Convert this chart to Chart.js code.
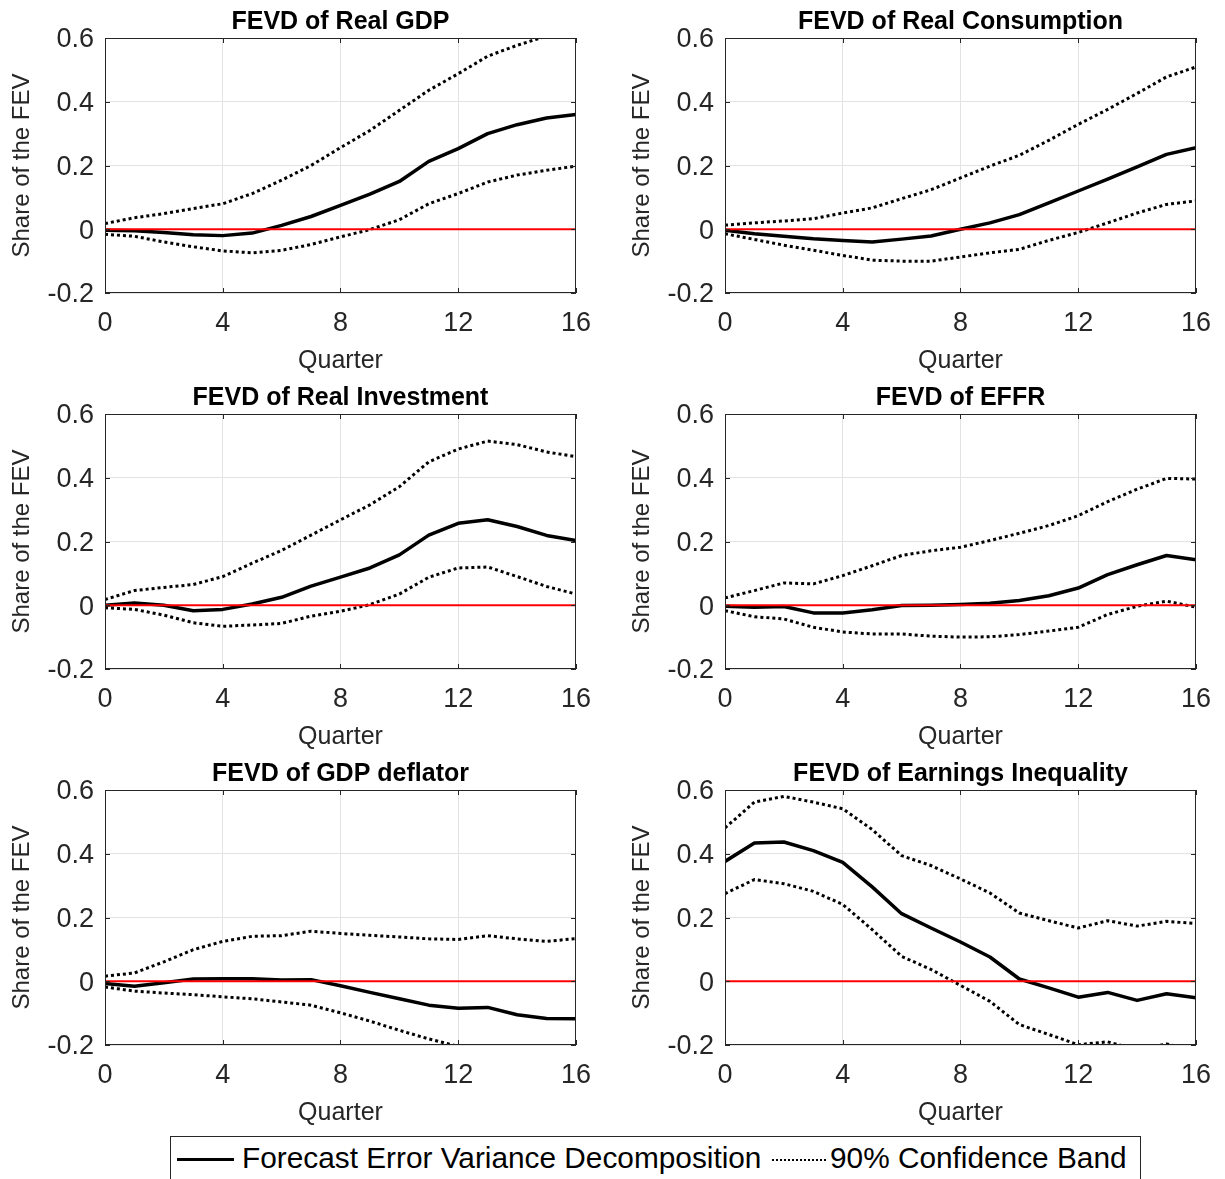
<!DOCTYPE html>
<html>
<head>
<meta charset="utf-8">
<title>FEVD panels</title>
<script src="https://cdn.jsdelivr.net/npm/chart.js@4.4.1/dist/chart.umd.min.js"></script>
<style>
  html, body { margin: 0; padding: 0; background: #fff; overflow: hidden; }
  #page { position: relative; width: 1225px; height: 1179px; font-family: 'Liberation Sans', Arial, sans-serif; }
  .panel { position: absolute; }
  #legendBox { position: absolute; left: 170px; top: 1136px; width: 971px; height: 60px; border: 1px solid #262626; box-sizing: border-box; background: #fff; }
  .legend-solid { position: absolute; left: 177px; top: 1158px; width: 57px; border-top: 3.5px solid #000; }
  .legend-dot { position: absolute; left: 772px; top: 1159px; width: 54px; border-top: 2px dotted #000; }
  .legend-text { position: absolute; top: 1143px; font-size: 29.8px; line-height: 30px; color: #000; white-space: nowrap; }
</style>
</head>
<body>
<div id="page">
  <canvas id="p0" class="panel" width="605" height="376" style="left:0;top:0"></canvas>
  <canvas id="p1" class="panel" width="605" height="376" style="left:620px;top:0"></canvas>
  <canvas id="p2" class="panel" width="605" height="376" style="left:0;top:376px"></canvas>
  <canvas id="p3" class="panel" width="605" height="376" style="left:620px;top:376px"></canvas>
  <canvas id="p4" class="panel" width="605" height="376" style="left:0;top:752px"></canvas>
  <canvas id="p5" class="panel" width="605" height="376" style="left:620px;top:752px"></canvas>

  <div id="legendBox"></div>
  <div class="legend-solid"></div>
  <span class="legend-text" style="left:242px">Forecast Error Variance Decomposition</span>
  <div class="legend-dot"></div>
  <span class="legend-text" style="left:830px">90% Confidence Band</span>
</div>

<script>
  // ---- data ----
  const QUARTERS = [0, 1, 2, 3, 4, 5, 6, 7, 8, 9, 10, 11, 12, 13, 14, 15, 16];
  const ZERO_LINE = [0, 0, 0, 0, 0, 0, 0, 0, 0, 0, 0, 0, 0, 0, 0, 0, 0];

  const X_TICKS = [0, 4, 8, 12, 16];
  const Y_TICKS = [-0.2, 0, 0.2, 0.4, 0.6];

  const TITLES = [
    'FEVD of Real GDP',
    'FEVD of Real Consumption',
    'FEVD of Real Investment',
    'FEVD of EFFR',
    'FEVD of GDP deflator',
    'FEVD of Earnings Inequality'
  ];

  const gdpMed = [-0.003, -0.005, -0.01, -0.017, -0.02, -0.012, 0.012, 0.04, 0.075, 0.11, 0.15, 0.213, 0.253, 0.3, 0.328, 0.349, 0.36];
  const gdpHi  = [0.018, 0.036, 0.049, 0.065, 0.08, 0.112, 0.154, 0.2, 0.256, 0.31, 0.373, 0.436, 0.488, 0.543, 0.577, 0.606, 0.63];
  const gdpLo  = [-0.016, -0.022, -0.04, -0.055, -0.068, -0.074, -0.066, -0.048, -0.024, -0.001, 0.03, 0.08, 0.112, 0.148, 0.17, 0.185, 0.198];

  const consMed = [-0.003, -0.014, -0.022, -0.03, -0.035, -0.04, -0.031, -0.021, 0, 0.02, 0.046, 0.083, 0.12, 0.157, 0.196, 0.235, 0.256];
  const consHi  = [0.013, 0.02, 0.026, 0.033, 0.051, 0.067, 0.096, 0.124, 0.161, 0.198, 0.232, 0.279, 0.329, 0.376, 0.426, 0.478, 0.509];
  const consLo  = [-0.014, -0.032, -0.05, -0.066, -0.082, -0.097, -0.1, -0.1, -0.087, -0.074, -0.063, -0.035, -0.01, 0.02, 0.051, 0.078, 0.089];

  const invMed = [0, 0.007, 0, -0.017, -0.013, 0.004, 0.025, 0.06, 0.088, 0.117, 0.158, 0.22, 0.257, 0.268, 0.247, 0.219, 0.203];
  const invHi  = [0.018, 0.046, 0.056, 0.065, 0.09, 0.132, 0.172, 0.22, 0.268, 0.315, 0.372, 0.45, 0.49, 0.515, 0.504, 0.481, 0.466];
  const invLo  = [-0.008, -0.013, -0.031, -0.055, -0.066, -0.062, -0.057, -0.034, -0.019, 0.002, 0.035, 0.088, 0.117, 0.12, 0.09, 0.059, 0.035];

  const effrMed = [-0.003, -0.006, -0.004, -0.024, -0.024, -0.014, -0.001, 0, 0.002, 0.006, 0.015, 0.03, 0.054, 0.096, 0.127, 0.156, 0.143];
  const effrHi  = [0.023, 0.046, 0.07, 0.067, 0.093, 0.124, 0.156, 0.171, 0.182, 0.203, 0.226, 0.25, 0.281, 0.325, 0.364, 0.398, 0.396];
  const effrLo  = [-0.017, -0.036, -0.043, -0.069, -0.084, -0.09, -0.09, -0.097, -0.1, -0.099, -0.092, -0.081, -0.069, -0.029, -0.003, 0.013, -0.006];

  const deflMed = [-0.007, -0.016, -0.005, 0.007, 0.008, 0.008, 0.004, 0.005, -0.014, -0.035, -0.055, -0.075, -0.085, -0.082, -0.105, -0.117, -0.118];
  const deflHi  = [0.016, 0.026, 0.061, 0.099, 0.125, 0.141, 0.143, 0.157, 0.15, 0.144, 0.139, 0.133, 0.131, 0.143, 0.133, 0.125, 0.134];
  const deflLo  = [-0.018, -0.031, -0.037, -0.042, -0.049, -0.055, -0.065, -0.075, -0.099, -0.125, -0.154, -0.181, -0.204, -0.215, -0.225, -0.23, -0.23];

  const ineqMed = [0.376, 0.434, 0.437, 0.41, 0.373, 0.296, 0.212, 0.167, 0.123, 0.076, 0.007, -0.021, -0.05, -0.035, -0.06, -0.039, -0.052];
  const ineqHi  = [0.481, 0.562, 0.58, 0.562, 0.541, 0.476, 0.394, 0.363, 0.321, 0.277, 0.214, 0.19, 0.167, 0.19, 0.173, 0.188, 0.181];
  const ineqLo  = [0.275, 0.319, 0.306, 0.282, 0.241, 0.162, 0.078, 0.037, -0.013, -0.063, -0.136, -0.167, -0.199, -0.19, -0.215, -0.197, -0.215];

  // ---- style ----
  const FONT = "'Liberation Sans', Arial, sans-serif";
  const AXIS_COLOR = '#262626';
  const GRID_COLOR = '#e3e3e3';

  // MATLAB-like box around the axes with short inward ticks
  const axesBox = {
    id: 'axesBox',
    afterDraw(chart) {
      const { ctx, chartArea: a, scales: { x, y } } = chart;
      const len = 5;
      ctx.save();
      ctx.strokeStyle = AXIS_COLOR;
      ctx.lineWidth = 1;
      ctx.strokeRect(a.left + 0.5, a.top + 0.5, a.width - 1, a.height - 1);
      ctx.beginPath();
      x.ticks.forEach(t => {
        const px = Math.round(x.getPixelForValue(t.value)) + 0.5;
        ctx.moveTo(px, a.bottom); ctx.lineTo(px, a.bottom - len);
        ctx.moveTo(px, a.top); ctx.lineTo(px, a.top + len);
      });
      y.ticks.forEach(t => {
        const py = Math.round(y.getPixelForValue(t.value)) + 0.5;
        ctx.moveTo(a.left, py); ctx.lineTo(a.left + len, py);
        ctx.moveTo(a.right, py); ctx.lineTo(a.right - len, py);
      });
      ctx.stroke();
      ctx.restore();
    }
  };

  function points(arr) {
    return QUARTERS.map((q, i) => ({ x: q, y: arr[i] }));
  }

  function makePanel(id, title, med, hi, lo) {
    const ctx = document.getElementById(id).getContext('2d');
    return new Chart(ctx, {
      type: 'line',
      data: {
        datasets: [
          { data: points(ZERO_LINE), borderColor: '#ff0000', borderWidth: 2 },
          { data: points(med), borderColor: '#000', borderWidth: 3.5 },
          { data: points(hi), borderColor: '#000', borderWidth: 3, borderDash: [3, 3] },
          { data: points(lo), borderColor: '#000', borderWidth: 3, borderDash: [3, 3] }
        ]
      },
      options: {
        responsive: false,
        animation: false,
        devicePixelRatio: 1,
        layout: { padding: { left: 0, right: 29, top: 0, bottom: 0 } },
        elements: {
          point: { radius: 0 },
          line: { tension: 0, fill: false, borderCapStyle: 'butt', borderJoinStyle: 'round' }
        },
        plugins: {
          legend: { display: false },
          tooltip: { enabled: false },
          title: {
            display: true,
            text: title,
            fullSize: false,
            color: '#000',
            font: { family: FONT, size: 25, weight: 'bold' },
            padding: { top: 7.5, bottom: 0.5 }
          }
        },
        scales: {
          x: {
            type: 'linear',
            min: X_TICKS[0],
            max: X_TICKS[X_TICKS.length - 1],
            afterFit: s => { s.height = 83; },
            afterBuildTicks: s => { s.ticks = X_TICKS.map(v => ({ value: v })); },
            ticks: { color: AXIS_COLOR, font: { family: FONT, size: 27 }, padding: 14, maxRotation: 0 },
            grid: { color: GRID_COLOR, drawTicks: false },
            border: { display: false },
            title: { display: true, text: 'Quarter', color: AXIS_COLOR, font: { family: FONT, size: 25 }, padding: 0 }
          },
          y: {
            min: Y_TICKS[0],
            max: Y_TICKS[Y_TICKS.length - 1],
            afterFit: s => { s.width = 105; },
            afterBuildTicks: s => { s.ticks = Y_TICKS.map(v => ({ value: v })); },
            ticks: {
              color: AXIS_COLOR,
              font: { family: FONT, size: 27 },
              padding: 11,
              labelOffset: 2,
              callback: v => (Math.abs(v) < 1e-9 ? '0' : v.toFixed(1))
            },
            grid: { color: GRID_COLOR, drawTicks: false },
            border: { display: false },
            title: { display: true, text: 'Share of the FEV', color: AXIS_COLOR, font: { family: FONT, size: 24 }, padding: { top: 8, bottom: 0 } }
          }
        }
      },
      plugins: [axesBox]
    });
  }

  makePanel('p0', TITLES[0], gdpMed, gdpHi, gdpLo);
  makePanel('p1', TITLES[1], consMed, consHi, consLo);
  makePanel('p2', TITLES[2], invMed, invHi, invLo);
  makePanel('p3', TITLES[3], effrMed, effrHi, effrLo);
  makePanel('p4', TITLES[4], deflMed, deflHi, deflLo);
  makePanel('p5', TITLES[5], ineqMed, ineqHi, ineqLo);
</script>
</body>
</html>
